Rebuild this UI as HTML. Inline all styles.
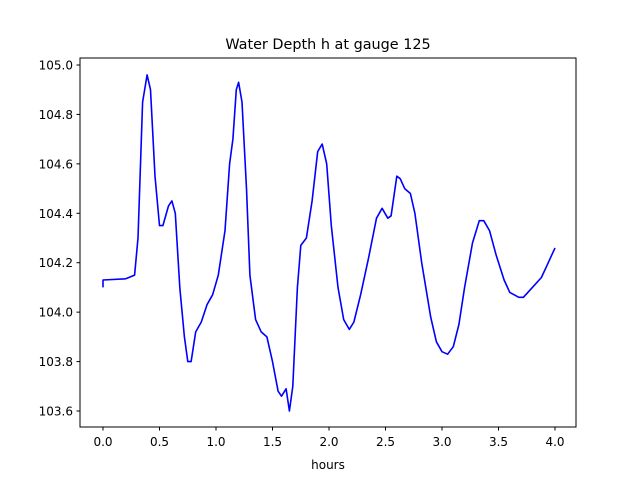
<!DOCTYPE html>
<html><head><meta charset="utf-8"><style>
body{margin:0;background:#fff;}
svg{display:block;font-family:"DejaVu Sans","Liberation Sans",sans-serif;}
</style></head><body>
<svg width="640" height="480" viewBox="0 0 640 480">
<rect width="640" height="480" fill="#fff"/>
<text x="328" y="49" font-size="14.4" text-anchor="middle">Water Depth h at gauge 125</text>
<g id="xticks"></g>
<g id="yticks"></g>
<path id="line" fill="none" stroke="#0000ff" stroke-width="1.6" stroke-linejoin="round"/>
<rect x="80" y="58" width="496" height="369" fill="none" stroke="#000" stroke-width="1"/>
<text x="328" y="469" font-size="12" text-anchor="middle">hours</text>
</svg>
<script>
const hours=[0,0,0.2,0.28,0.31,0.35,0.39,0.42,0.46,0.5,0.53,0.58,0.61,0.64,0.68,0.72,0.75,0.78,0.82,0.87,0.92,0.97,1.02,1.08,1.12,1.15,1.18,1.2,1.23,1.27,1.3,1.35,1.4,1.45,1.5,1.55,1.58,1.62,1.65,1.68,1.72,1.75,1.8,1.85,1.9,1.94,1.98,2.02,2.08,2.13,2.18,2.22,2.28,2.35,2.42,2.47,2.52,2.55,2.6,2.63,2.67,2.72,2.76,2.82,2.9,2.95,3.0,3.05,3.1,3.15,3.2,3.27,3.33,3.37,3.42,3.48,3.55,3.6,3.68,3.72,3.8,3.88,3.93,4.0];
const depth=[104.10,104.13,104.135,104.15,104.3,104.85,104.96,104.9,104.55,104.35,104.35,104.43,104.45,104.4,104.1,103.9,103.8,103.8,103.92,103.96,104.03,104.07,104.15,104.33,104.6,104.7,104.9,104.93,104.85,104.5,104.15,103.97,103.92,103.9,103.8,103.68,103.66,103.69,103.6,103.7,104.1,104.27,104.3,104.45,104.65,104.68,104.6,104.35,104.1,103.97,103.93,103.96,104.07,104.22,104.38,104.42,104.38,104.39,104.55,104.54,104.5,104.48,104.4,104.2,103.98,103.88,103.84,103.83,103.86,103.95,104.1,104.28,104.37,104.37,104.33,104.23,104.13,104.08,104.06,104.06,104.1,104.14,104.19,104.26];
const xTickLabels=["0.0","0.5","1.0","1.5","2.0","2.5","3.0","3.5","4.0"];
const yTickLabels=["103.6","103.8","104.0","104.2","104.4","104.6","104.8","105.0"];
const ns="http://www.w3.org/2000/svg";
function X(t){return 103+(t-0)*(555-103)/4;}
function Y(v){return 411-(v-103.6)*(411-65)/1.4;}
const xg=document.getElementById('xticks'),yg=document.getElementById('yticks');
xTickLabels.forEach(l=>{const x=X(parseFloat(l));
 const ln=document.createElementNS(ns,'line');ln.setAttribute('x1',x);ln.setAttribute('x2',x);ln.setAttribute('y1',427);ln.setAttribute('y2',430.5);ln.setAttribute('stroke','#000');
 
 xg.appendChild(ln);
 const t=document.createElementNS(ns,'text');t.setAttribute('x',x);t.setAttribute('y',446);t.setAttribute('font-size','12');t.setAttribute('text-anchor','middle');t.textContent=l;
 
 xg.appendChild(t);});
yTickLabels.forEach(l=>{const y=Y(parseFloat(l));
 const ln=document.createElementNS(ns,'line');ln.setAttribute('x1',76.5);ln.setAttribute('x2',80);ln.setAttribute('y1',y);ln.setAttribute('y2',y);ln.setAttribute('stroke','#000');
 
 yg.appendChild(ln);
 const t=document.createElementNS(ns,'text');t.setAttribute('x',73);t.setAttribute('y',y+4.5);t.setAttribute('font-size','12');t.setAttribute('text-anchor','end');t.textContent=l;
 
 yg.appendChild(t);});
let d='';hours.forEach((h,i)=>{d+=(i?'L':'M')+X(h).toFixed(1)+','+Y(depth[i]).toFixed(1);});
document.getElementById('line').setAttribute('d',d);
</script>
</body></html>
